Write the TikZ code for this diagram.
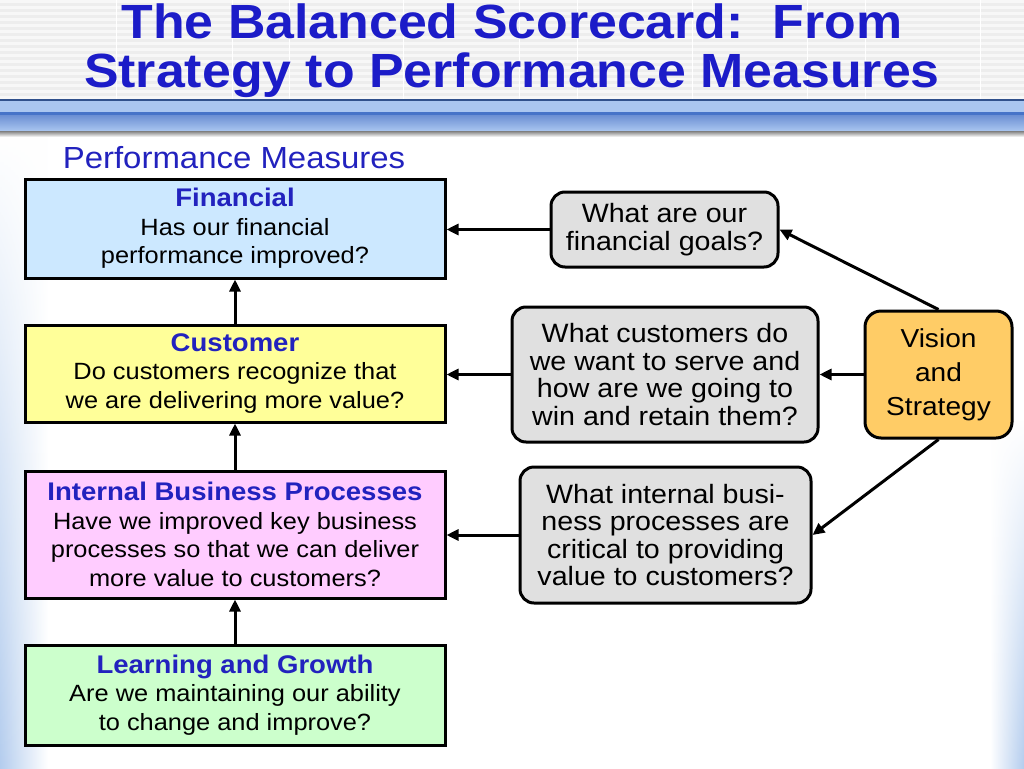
\documentclass[tikz,border=0pt]{standalone}
\usepackage{fontspec}
\setmainfont{Liberation Sans}[FakeStretch=1.08]
\usetikzlibrary{arrows.meta,fadings}
\definecolor{titleblue}{RGB}{28,28,200}
\definecolor{headblue}{RGB}{34,34,190}
\definecolor{finfill}{RGB}{204,232,255}
\definecolor{custfill}{RGB}{255,255,153}
\definecolor{ibpfill}{RGB}{255,204,255}
\definecolor{lgfill}{RGB}{204,255,204}
\definecolor{qfill}{RGB}{224,224,224}
\definecolor{visfill}{RGB}{255,204,102}
\definecolor{bandlight}{RGB}{170,198,240}
\definecolor{banddark}{RGB}{70,115,200}
\definecolor{edgeblue}{RGB}{180,205,238}
\newcommand{\heading}[1]{{\color{headblue}\fontsize{25.5}{28.5}\selectfont\bfseries #1}}
\begin{document}
\begin{tikzpicture}[x=1pt,y=-1pt]
\tikzstyle{measure} = [draw=black, line width=3pt, minimum width=420pt, align=center, font=\fontsize{23.5}{28.5}\selectfont, inner sep=2pt]
\tikzstyle{question} = [draw=black, line width=3pt, fill=qfill, rounded corners=14pt, align=center, font=\fontsize{26.5}{27.5}\selectfont, inner sep=2pt]
\tikzstyle{edge} = [draw=black, line width=3pt, -{Triangle[length=12pt,width=11pt]}]

% background and title bar
\useasboundingbox (0,0) rectangle (1024,768);
\fill[white] (0,0) rectangle (1024,768);
\fill[black!7] (0,0) rectangle (1024,100);
\foreach \y in {0,6,...,96}
  \fill[black!3] (0,\y) rectangle (1024,\y+3);
\foreach \x in {116,232,289,403,519,577,692,807,865,980}
  \draw[white, line width=1pt] (\x,0) -- (\x,100);
\fill[bandlight] (0,100) rectangle (1024,112);
\fill[banddark] (0,112) rectangle (1024,115);
\shade[top color=banddark!80, bottom color=bandlight] (0,115) rectangle (1024,131);
\draw[banddark!70!black, line width=1.5pt] (0,100) -- (1024,100);
\shade[top color=black!50, bottom color=white] (0,131) rectangle (1024,137);
\shade[left color=edgeblue, right color=white, path fading=north] (0,137) rectangle (48,768);
\shade[right color=edgeblue, left color=white, path fading=north] (990,420) rectangle (1024,768);

\node[text=titleblue, font=\fontsize{48}{49}\selectfont\bfseries, align=center] (title) at (512,51) {The Balanced Scorecard:\ \ From\\Strategy to Performance Measures};
\node[text=headblue, font=\fontsize{30.5}{34}\selectfont] (pm) at (234,158) {Performance Measures};

% perspectives
\node[measure, fill=finfill, minimum height=99pt] (fin) at (235,228.5) {\heading{Financial}\\Has our financial\\performance improved?};
\node[measure, fill=custfill, minimum height=97pt] (cust) at (235,373.5) {\heading{Customer}\\Do customers recognize that\\we are delivering more value?};
\node[measure, fill=ibpfill, minimum height=127pt] (ibp) at (235,534.5) {\heading{Internal Business Processes}\\Have we improved key business\\processes so that we can deliver\\more value to customers?};
\node[measure, fill=lgfill, minimum height=100pt] (lg) at (235,695) {\heading{Learning and Growth}\\Are we maintaining our ability\\to change and improve?};

% questions
\node[question, minimum width=227pt, minimum height=75pt] (q1) at (664.5,229.5) {What are our\\financial goals?};
\node[question, minimum width=306pt, minimum height=135pt] (q2) at (665,374.5) {What customers do\\we want to serve and\\how are we going to\\win and retain them?};
\node[question, minimum width=291pt, minimum height=136pt] (q3) at (665.5,535) {What internal busi-\\ness processes are\\critical to providing\\value to customers?};
\node[draw=black, line width=3pt, fill=visfill, rounded corners=16pt, minimum width=147pt, minimum height=127pt, align=center, font=\fontsize{26}{34}\selectfont] (vis) at (938.5,374.5) {Vision\\and\\Strategy};

\draw[edge] (lg) -- (ibp);
\draw[edge] (ibp) -- (cust);
\draw[edge] (cust) -- (fin);
\draw[edge] (q1.west) -- (q1.west -| fin.east);
\draw[edge] (q2.west) -- (q2.west -| cust.east);
\draw[edge] (q3.west) -- (q3.west -| ibp.east);
\draw[edge] (vis.north) -- (q1.east);
\draw[edge] (vis.west) -- (q2.east);
\draw[edge] (vis.south) -- (q3.east);
\end{tikzpicture}
\end{document}
